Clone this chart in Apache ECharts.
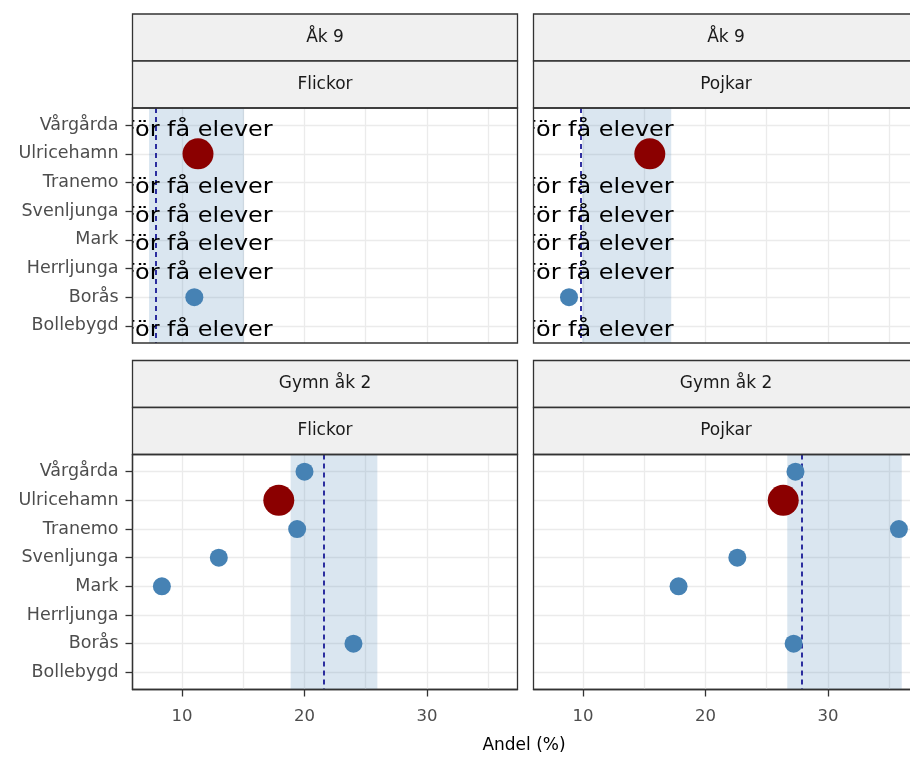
<!DOCTYPE html>
<html>
<head>
<meta charset="utf-8">
<script src="https://cdn.jsdelivr.net/npm/echarts@6/dist/echarts.min.js"></script>
<style>
  html, body { margin: 0; padding: 0; background: #fff; }
  #chart { width: 910px; height: 758px; }
</style>
</head>
<body>
<div id="chart"></div>
<script>
// ---------- data ----------
const municipalities = ['Vårgårda', 'Ulricehamn', 'Tranemo', 'Svenljunga', 'Mark', 'Herrljunga', 'Borås', 'Bollebygd'];
const highlight = 'Ulricehamn';
const tooFewText = 'För få elever';
const tooFewX = 11.25;

const rowLabels = ['Åk 9', 'Gymn åk 2'];
const colLabels = ['Flickor', 'Pojkar'];

// values per panel (null = no value)
const ak9Flickor   = [null, 11.3, null, null, null, null, 11.0, null];
const ak9Pojkar    = [null, 15.45, null, null, null, null, 8.85, null];
const gymnFlickor  = [20.0, 17.9, 19.4, 13.0, 8.35, null, 24.0, null];
const gymnPojkar   = [27.35, 26.35, 35.8, 22.6, 17.8, null, 27.2, null];

// "för få elever" flags per panel
const ak9FlickorTooFew  = [true, false, true, true, true, true, false, true];
const ak9PojkarTooFew   = [true, false, true, true, true, true, false, true];
const gymnFlickorTooFew = [false, false, false, false, false, false, false, false];
const gymnPojkarTooFew  = [false, false, false, false, false, false, false, false];

// reference mean (dashed) and interval (band)
const ak9FlickorMean = 7.85,  ak9FlickorBand = [7.3, 15.05];
const ak9PojkarMean = 9.84,   ak9PojkarBand = [9.92, 17.2];
const gymnFlickorMean = 21.58, gymnFlickorBand = [18.87, 25.95];
const gymnPojkarMean = 27.9,  gymnPojkarBand = [26.68, 36.03];

const xTicks = [10, 20, 30];
const xGrid = [10, 15, 20, 25, 30, 35];
const xTitle = 'Andel (%)';

// ---------- layout ----------
const FONT = 'DejaVu Sans';
const W = 910;
const PW = 385, PH = 235, STRIP = 47;
const X_MIN = 5.95, X_MAX = 37.4;             // full panel x-range
const PX_PER_UNIT = PW / (X_MAX - X_MIN);
const panels = [
  { values: ak9Flickor,  tooFew: ak9FlickorTooFew,  mean: ak9FlickorMean,  band: ak9FlickorBand,  left: 132.5, top: 108,   row: 0, col: 0 },
  { values: ak9Pojkar,   tooFew: ak9PojkarTooFew,   mean: ak9PojkarMean,   band: ak9PojkarBand,   left: 533.5, top: 108,   row: 0, col: 1 },
  { values: gymnFlickor, tooFew: gymnFlickorTooFew, mean: gymnFlickorMean, band: gymnFlickorBand, left: 132.5, top: 454.5, row: 1, col: 0 },
  { values: gymnPojkar,  tooFew: gymnPojkarTooFew,  mean: gymnPojkarMean,  band: gymnPojkarBand,  left: 533.5, top: 454.5, row: 1, col: 1 }
];
const catIdx = municipalities.map((_, i) => i);

const grids = [], xAxes = [], yAxes = [], series = [], graphics = [];

panels.forEach((p, k) => {
  // the right column is cut by the picture edge: keep the same scale, show only the visible part
  const visW = Math.min(PW, W - p.left);
  const xMax = X_MIN + visW / PX_PER_UNIT;
  grids.push({ left: p.left, width: visW, top: p.top, height: PH, show: true,
    borderWidth: 0, backgroundColor: '#fff' });
  const bottom = p.row === 1, leftCol = p.col === 0;
  xAxes.push({
    gridIndex: k, type: 'value', min: X_MIN, max: xMax, position: 'bottom',
    axisLine: { show: bottom, onZero: false, lineStyle: { color: '#333', width: 1.3 } },
    splitLine: { show: false },
    axisTick: { show: bottom, inside: false, customValues: xTicks, length: 7, lineStyle: { color: '#333', width: 1.3 } },
    axisLabel: { show: bottom, customValues: xTicks, color: '#4d4d4d', fontSize: 16.5, fontFamily: FONT, margin: 19 }
  });
  yAxes.push({
    gridIndex: k, type: 'value', inverse: true, min: -0.6, max: 7.6, position: 'left',
    axisLine: { show: leftCol, onZero: false, lineStyle: { color: '#333', width: 1.3 } },
    splitLine: { show: false },
    axisTick: { show: leftCol, inside: false, customValues: catIdx, length: 7, lineStyle: { color: '#333', width: 1.3 } },
    axisLabel: { show: leftCol, customValues: catIdx, formatter: v => municipalities[Math.round(v)] || '',
      color: '#4d4d4d', fontSize: 17.5, fontFamily: FONT, margin: 14 }
  });

  // grid lines
  series.push({
    type: 'scatter', xAxisIndex: k, yAxisIndex: k, data: [], z: 1, silent: true,
    markLine: { silent: true, symbol: 'none', z: 1, animation: false,
      label: { show: false },
      lineStyle: { color: '#ebebeb', width: 1.3, type: 'solid' },
      emphasis: { disabled: true },
      data: xGrid.filter(v => v < xMax).map(v => ({ xAxis: v })).concat(catIdx.map(i => ({ yAxis: i }))) }
  });
  // band
  series.push({
    type: 'scatter', xAxisIndex: k, yAxisIndex: k, data: [], z: 2, silent: true,
    markArea: { silent: true, z: 2, animation: false,
      itemStyle: { color: 'rgba(70,130,180,0.2)' },
      emphasis: { disabled: true },
      data: [[{ xAxis: p.band[0] }, { xAxis: Math.min(p.band[1], xMax) }]] }
  });
  // dashed mean line
  series.push({
    type: 'scatter', xAxisIndex: k, yAxisIndex: k, data: [], z: 3, silent: true,
    markLine: { silent: true, symbol: 'none', z: 3, animation: false,
      label: { show: false },
      lineStyle: { color: '#00008B', width: 1.6, type: [5, 4] },
      emphasis: { disabled: true },
      data: [{ xAxis: p.mean }] }
  });
  // other municipalities
  series.push({
    type: 'scatter', xAxisIndex: k, yAxisIndex: k, z: 4, silent: true,
    symbolSize: 18, itemStyle: { color: '#4682B4', opacity: 1 },
    data: p.values.map((v, i) => (v != null && municipalities[i] !== highlight) ? [v, i] : null).filter(d => d)
  });
  // highlighted municipality
  series.push({
    type: 'scatter', xAxisIndex: k, yAxisIndex: k, z: 5, silent: true,
    symbolSize: 31, itemStyle: { color: '#8B0000', opacity: 1 },
    data: p.values.map((v, i) => (v != null && municipalities[i] === highlight) ? [v, i] : null).filter(d => d)
  });
  // "För få elever" text
  series.push({
    type: 'custom', xAxisIndex: k, yAxisIndex: k, z: 6, silent: true, clip: true,
    encode: { x: 0, y: 1 },
    data: p.tooFew.map((f, i) => f ? [tooFewX, i] : null).filter(d => d),
    renderItem: (params, api) => {
      const pt = api.coord([api.value(0), api.value(1)]);
      return { type: 'text', x: pt[0], y: pt[1] + 5, scaleX: 1.14, scaleY: 1,
        style: { text: tooFewText, fontSize: 21, fontFamily: FONT, fill: '#000',
          align: 'center', verticalAlign: 'middle' } };
    }
  });

  // panel border (full width, may run past the picture edge)
  graphics.push({
    type: 'rect',
    shape: { x: p.left, y: p.top, width: PW, height: PH },
    style: { fill: 'none', stroke: '#333', lineWidth: 1.3 }, z: 20, silent: true
  });

  // strips
  const stripTop = p.top - 2 * STRIP;
  [rowLabels[p.row], colLabels[p.col]].forEach((lab, j) => {
    graphics.push({
      type: 'rect',
      shape: { x: p.left, y: stripTop + j * STRIP, width: PW, height: STRIP },
      style: { fill: '#f0f0f0', stroke: '#333', lineWidth: 1.3 }, z: 10
    });
    graphics.push({
      type: 'text', x: p.left + PW / 2, y: stripTop + j * STRIP + STRIP / 2,
      style: { text: lab, fontSize: 17, fontFamily: FONT, fill: '#1a1a1a', align: 'center', verticalAlign: 'middle' },
      z: 11
    });
  });
});

graphics.push({
  type: 'text', x: 524, y: 746,
  style: { text: xTitle, fontSize: 17, fontFamily: FONT, fill: '#000', align: 'center', verticalAlign: 'middle' },
  z: 11
});

const chart = echarts.init(document.getElementById('chart'), null, { renderer: 'canvas' });
chart.setOption({
  animation: false,
  backgroundColor: '#fff',
  grid: grids,
  xAxis: xAxes,
  yAxis: yAxes,
  series: series,
  graphic: graphics
});
</script>
</body>
</html>
